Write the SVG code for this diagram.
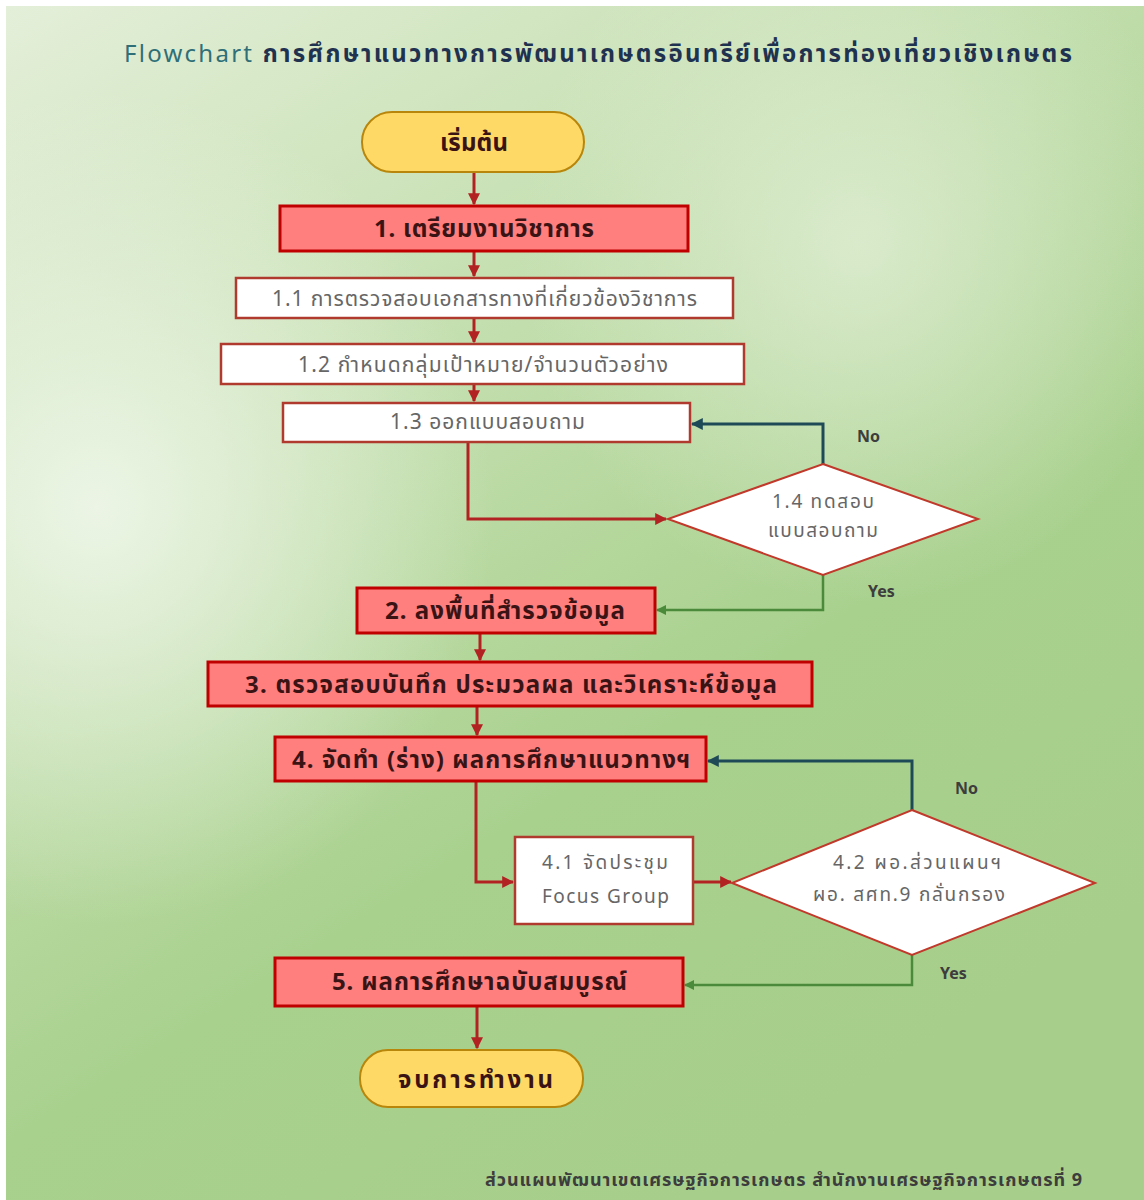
<svg xmlns="http://www.w3.org/2000/svg" width="1144" height="1200" viewBox="0 0 1144 1200">
<defs>
<linearGradient id="bg" x1="0" y1="0" x2="0.6" y2="1">
<stop offset="0" stop-color="#e4efd9"/>
<stop offset="0.35" stop-color="#c6e0b2"/>
<stop offset="0.7" stop-color="#a9d18e"/>
<stop offset="1" stop-color="#a7cf8b"/>
</linearGradient>
<radialGradient id="hl" cx="0.08" cy="0.42" r="0.35">
<stop offset="0" stop-color="#eef6e8" stop-opacity="0.95"/>
<stop offset="1" stop-color="#eef6e8" stop-opacity="0"/>
</radialGradient>
<radialGradient id="hl2" cx="0.75" cy="0.2" r="0.3">
<stop offset="0" stop-color="#e6f1dc" stop-opacity="0.7"/>
<stop offset="1" stop-color="#e6f1dc" stop-opacity="0"/>
</radialGradient>
<marker id="ar" viewBox="0 0 10 10" refX="9" refY="5" markerWidth="4" markerHeight="4" orient="auto"><path d="M0,0 L10,5 L0,10 z" fill="#b22222"/></marker>
<marker id="an" viewBox="0 0 10 10" refX="9" refY="5" markerWidth="4" markerHeight="4" orient="auto"><path d="M0,0 L10,5 L0,10 z" fill="#1e4a57"/></marker>
<marker id="ay" viewBox="0 0 10 10" refX="9" refY="5" markerWidth="4" markerHeight="4" orient="auto"><path d="M0,0 L10,5 L0,10 z" fill="#4a8a3a"/></marker>
<style>
text{font-family:"Noto Sans","Noto Sans Thai","DejaVu Sans",sans-serif;}
.term{fill:#ffd966;stroke:#b8860b;stroke-width:2;}
.main{fill:#ff7f7f;stroke:#c00000;stroke-width:3;}
.sub{fill:#ffffff;stroke:#b03a2e;stroke-width:2.5;}
.dia{fill:#ffffff;stroke:#c0392b;stroke-width:2;}
.tb{font-size:24px;font-weight:bold;fill:#3a1414;}
.ts{font-size:21px;fill:#666;}
.td{font-size:19px;fill:#666;}
.lbl{font-size:16px;font-weight:bold;fill:#3d3d3d;}
.red{fill:none;stroke:#b22222;stroke-width:3;marker-end:url(#ar);}
.no{fill:none;stroke:#1e4a57;stroke-width:3;marker-end:url(#an);}
.yes{fill:none;stroke:#4a8a3a;stroke-width:2.5;marker-end:url(#ay);}
</style>
</defs>
<rect width="1144" height="1200" fill="#ffffff"/>
<rect x="6" y="6" width="1138" height="1194" fill="url(#bg)"/>
<rect x="6" y="6" width="1138" height="1194" fill="url(#hl)"/>
<rect x="6" y="6" width="1138" height="1194" fill="url(#hl2)"/>

<text x="124" y="62" font-size="24" font-weight="bold" textLength="948" lengthAdjust="spacing"><tspan fill="#2f6f78" font-weight="normal">Flowchart</tspan><tspan fill="#1f3250"> การศึกษาแนวทางการพัฒนาเกษตรอินทรีย์เพื่อการท่องเที่ยวเชิงเกษตร</tspan></text>

<g id="connectors">
<path class="red" d="M474,172 V204"/>
<path class="red" d="M474,251 V276"/>
<path class="red" d="M474,318 V342"/>
<path class="red" d="M474,384 V401"/>
<path class="red" d="M468,442 V519 H666"/>
<path class="no" d="M823,464 V424 H692"/>
<path class="yes" d="M823,575 V610 H657"/>
<path class="red" d="M480,633 V660"/>
<path class="red" d="M477,706 V735"/>
<path class="red" d="M476,781 V882 H513"/>
<path class="red" d="M693,882 H731"/>
<path class="no" d="M912,810 V761 H708"/>
<path class="yes" d="M912,955 V985 H685"/>
<path class="red" d="M477,1006 V1048"/>
</g>

<g id="start"><rect class="term" x="362" y="112" width="222" height="60" rx="30"/><text class="tb" x="440" y="151" textLength="68" lengthAdjust="spacing">เริ่มต้น</text></g>
<g id="n1"><rect class="main" x="280" y="206" width="408" height="45"/><text class="tb" x="374" y="237" textLength="220" lengthAdjust="spacing">1. เตรียมงานวิชาการ</text></g>
<g id="n1_1"><rect class="sub" x="236" y="278" width="497" height="40"/><text class="ts" x="272" y="306" textLength="425" lengthAdjust="spacing">1.1 การตรวจสอบเอกสารทางที่เกี่ยวข้องวิชาการ</text></g>
<g id="n1_2"><rect class="sub" x="221" y="344" width="523" height="40"/><text class="ts" x="298" y="372" textLength="370" lengthAdjust="spacing">1.2 กำหนดกลุ่มเป้าหมาย/จำนวนตัวอย่าง</text></g>
<g id="n1_3"><rect class="sub" x="283" y="403" width="407" height="39"/><text class="ts" x="390" y="429" textLength="195" lengthAdjust="spacing">1.3 ออกแบบสอบถาม</text></g>
<g id="n1_4"><polygon class="dia" points="823,464 978,519 823,575 668,519"/><text class="td" x="772" y="508" textLength="102" lengthAdjust="spacing">1.4 ทดสอบ</text><text class="td" x="768" y="537" textLength="110" lengthAdjust="spacing">แบบสอบถาม</text></g>
<g id="n2"><rect class="main" x="357" y="588" width="298" height="45"/><text class="tb" x="385" y="619" textLength="240" lengthAdjust="spacing">2. ลงพื้นที่สำรวจข้อมูล</text></g>
<g id="n3"><rect class="main" x="208" y="662" width="604" height="44"/><text class="tb" x="245" y="693" textLength="532" lengthAdjust="spacing">3. ตรวจสอบบันทึก ประมวลผล และวิเคราะห์ข้อมูล</text></g>
<g id="n4"><rect class="main" x="275" y="737" width="431" height="44"/><text class="tb" x="292" y="768" textLength="398" lengthAdjust="spacing">4. จัดทำ (ร่าง) ผลการศึกษาแนวทางฯ</text></g>
<g id="n4_1"><rect class="sub" x="515" y="837" width="178" height="87"/><text class="td" x="542" y="869" textLength="126" lengthAdjust="spacing">4.1 จัดประชุม</text><text class="td" x="542" y="903" textLength="127" lengthAdjust="spacing">Focus Group</text></g>
<g id="n4_2"><polygon class="dia" points="912,810 1095,883 912,955 732,883"/><text class="td" x="833" y="869" textLength="168" lengthAdjust="spacing">4.2 ผอ.ส่วนแผนฯ</text><text class="td" x="813" y="901" textLength="192" lengthAdjust="spacing">ผอ. สศท.9 กลั่นกรอง</text></g>
<g id="n5"><rect class="main" x="275" y="958" width="408" height="48"/><text class="tb" x="332" y="990" textLength="295" lengthAdjust="spacing">5. ผลการศึกษาฉบับสมบูรณ์</text></g>
<g id="end"><rect class="term" x="360" y="1050" width="223" height="57" rx="28"/><text class="tb" x="398" y="1088" font-size="26" textLength="155" lengthAdjust="spacing">จบการทำงาน</text></g>

<g id="labels">
<text class="lbl" x="857" y="442">No</text>
<text class="lbl" x="868" y="597">Yes</text>
<text class="lbl" x="955" y="794">No</text>
<text class="lbl" x="940" y="979">Yes</text>
<text x="485" y="1186" font-size="18" font-weight="bold" fill="#3d3d3d" textLength="597" lengthAdjust="spacing">ส่วนแผนพัฒนาเขตเศรษฐกิจการเกษตร สำนักงานเศรษฐกิจการเกษตรที่ 9</text>
</g>
</svg>
